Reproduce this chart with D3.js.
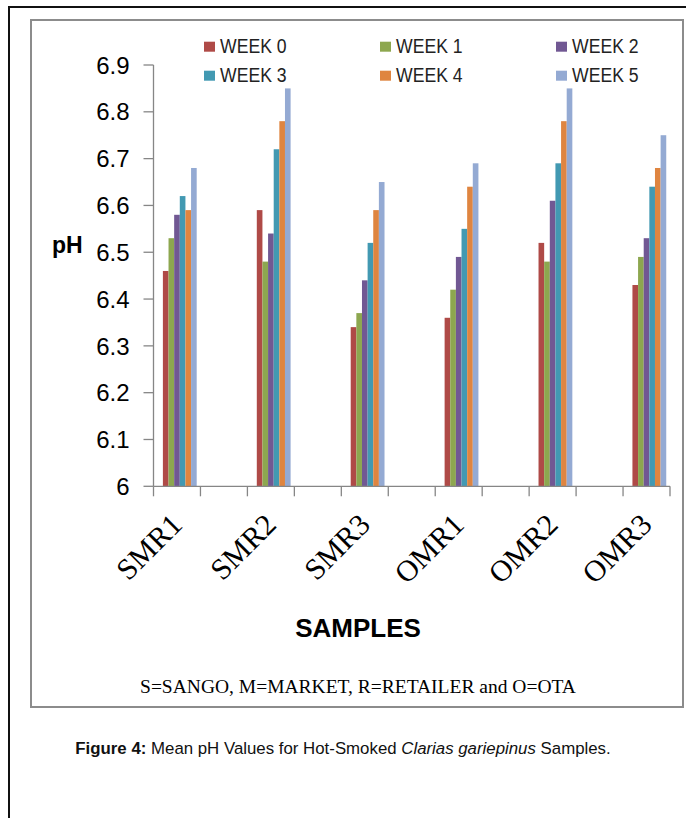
<!DOCTYPE html>
<html>
<head>
<meta charset="utf-8">
<script src="https://cdn.jsdelivr.net/npm/d3@7"></script>
<style>
  html, body { margin: 0; padding: 0; background: #fff; }
  svg { display: block; }
</style>
</head>
<body>
<svg id="chart" width="686" height="818"></svg>
<script>
// ---- data ----
const samples = ["SMR1", "SMR2", "SMR3", "OMR1", "OMR2", "OMR3"];
const weeks = ["WEEK 0", "WEEK 1", "WEEK 2", "WEEK 3", "WEEK 4", "WEEK 5"];
const week0 = [6.46, 6.59, 6.34, 6.36, 6.52, 6.43];
const week1 = [6.53, 6.48, 6.37, 6.42, 6.48, 6.49];
const week2 = [6.58, 6.54, 6.44, 6.49, 6.61, 6.53];
const week3 = [6.62, 6.72, 6.52, 6.55, 6.69, 6.64];
const week4 = [6.59, 6.78, 6.59, 6.64, 6.78, 6.68];
const week5 = [6.68, 6.85, 6.65, 6.69, 6.85, 6.75];
const yTicks = [6, 6.1, 6.2, 6.3, 6.4, 6.5, 6.6, 6.7, 6.8, 6.9];
const colors = ["#AF4A47", "#8DA74F", "#715893", "#4299B2", "#DF8540", "#94AAD3"];
const yTitle = "pH";
const xTitle = "SAMPLES";
const footnote = "S=SANGO, M=MARKET, R=RETAILER and O=OTA";

const series = [week0, week1, week2, week3, week4, week5];

// ---- layout ----
const svg = d3.select("#chart");
const axisColor = "#868686";
const plotLeft = 153.5, plotRight = 670, plotTop = 65, plotBottom = 486.3;

// frames
svg.append("rect").attr("x", 9).attr("y", 7).attr("width", 760).attr("height", 900)
  .attr("fill", "none").attr("stroke", "#111").attr("stroke-width", 2);
svg.append("rect").attr("x", 31).attr("y", 20).attr("width", 652).attr("height", 687)
  .attr("fill", "#fff").attr("stroke", "#8c8c8c").attr("stroke-width", 2);

// scales
const slots = samples.flatMap((s, i) => i < samples.length - 1 ? [s, "gap" + i] : [s]);
const x = d3.scaleBand().domain(slots).range([plotLeft, plotRight]).padding(0);
const bw = x.bandwidth();
const xs = d3.scaleBand().domain(weeks).range([bw * 0.2, bw * 0.92]).padding(0);
const y = d3.scaleLinear().domain([6, 6.9]).range([plotBottom, plotTop]);

// bars
const g = svg.append("g");
series.forEach((vals, si) => {
  g.selectAll(null).data(vals).enter().append("rect")
    .attr("x", (d, i) => x(samples[i]) + xs(weeks[si]))
    .attr("y", d => y(d))
    .attr("width", xs.bandwidth())
    .attr("height", d => y(6) - y(d))
    .attr("fill", colors[si]);
});

// y axis
svg.append("line").attr("x1", plotLeft).attr("x2", plotLeft).attr("y1", y(6.9)).attr("y2", y(6))
  .attr("stroke", axisColor).attr("stroke-width", 1.3);
yTicks.forEach(v => {
  svg.append("line").attr("x1", plotLeft - 10).attr("x2", plotLeft).attr("y1", y(v)).attr("y2", y(v))
    .attr("stroke", axisColor).attr("stroke-width", 1.3);
  svg.append("text").attr("x", plotLeft - 24).attr("y", y(v)).attr("dy", "0.36em")
    .attr("text-anchor", "end").attr("font-family", "Liberation Sans, Arial, sans-serif")
    .attr("font-size", 24).attr("fill", "#000").text(d3.format("~g")(v));
});

// x axis
svg.append("line").attr("x1", plotLeft).attr("x2", plotRight).attr("y1", y(6)).attr("y2", y(6))
  .attr("stroke", axisColor).attr("stroke-width", 1.3);
const bounds = slots.map(s => x(s)).concat([plotRight]);
bounds.forEach(bx => {
  svg.append("line").attr("x1", bx).attr("x2", bx).attr("y1", y(6)).attr("y2", y(6) + 10)
    .attr("stroke", axisColor).attr("stroke-width", 1.3);
});
samples.forEach(s => {
  const cx = x(s) + bw / 2 + 7, cy = y(6) + 40;
  svg.append("text").attr("transform", `translate(${cx},${cy}) rotate(-45)`)
    .attr("text-anchor", "end").attr("font-family", "Liberation Serif, Times New Roman, serif")
    .attr("font-size", 30).attr("fill", "#000").text(s);
});

// axis titles
svg.append("text").attr("x", 52).attr("y", 253).attr("font-family", "Liberation Sans, Arial, sans-serif")
  .attr("font-weight", "bold").attr("font-size", 23).attr("fill", "#000").text(yTitle);
svg.append("text").attr("x", 358).attr("y", 637).attr("text-anchor", "middle")
  .attr("font-family", "Liberation Sans, Arial, sans-serif").attr("font-weight", "bold")
  .attr("font-size", 26).attr("fill", "#000").text(xTitle);
svg.append("text").attr("x", 358).attr("y", 693).attr("text-anchor", "middle")
  .attr("font-family", "Liberation Serif, Times New Roman, serif")
  .attr("font-size", 19.5).attr("fill", "#000").text(footnote);

// legend
weeks.forEach((w, i) => {
  const col = i % 3, row = Math.floor(i / 3);
  const lx = 204 + col * 176, ly = 52.7 + row * 29;
  svg.append("rect").attr("x", lx).attr("y", ly - 11).attr("width", 11).attr("height", 10)
    .attr("fill", colors[i]);
  svg.append("text").attr("transform", `translate(${lx + 16},${ly}) scale(0.84,1)`)
    .attr("font-family", "Liberation Sans, Arial, sans-serif").attr("font-size", 21)
    .attr("fill", "#222").text(w);
});

// caption
const cap = svg.append("text").attr("transform", "translate(343,754) scale(0.99,1)")
  .attr("text-anchor", "middle").attr("font-family", "Liberation Sans, Arial, sans-serif")
  .attr("font-size", 17).attr("fill", "#111");
cap.append("tspan").attr("font-weight", "bold").text("Figure 4:");
cap.append("tspan").text(" Mean pH Values for Hot-Smoked ");
cap.append("tspan").attr("font-style", "italic").text("Clarias gariepinus");
cap.append("tspan").text(" Samples.");
</script>
</body>
</html>
